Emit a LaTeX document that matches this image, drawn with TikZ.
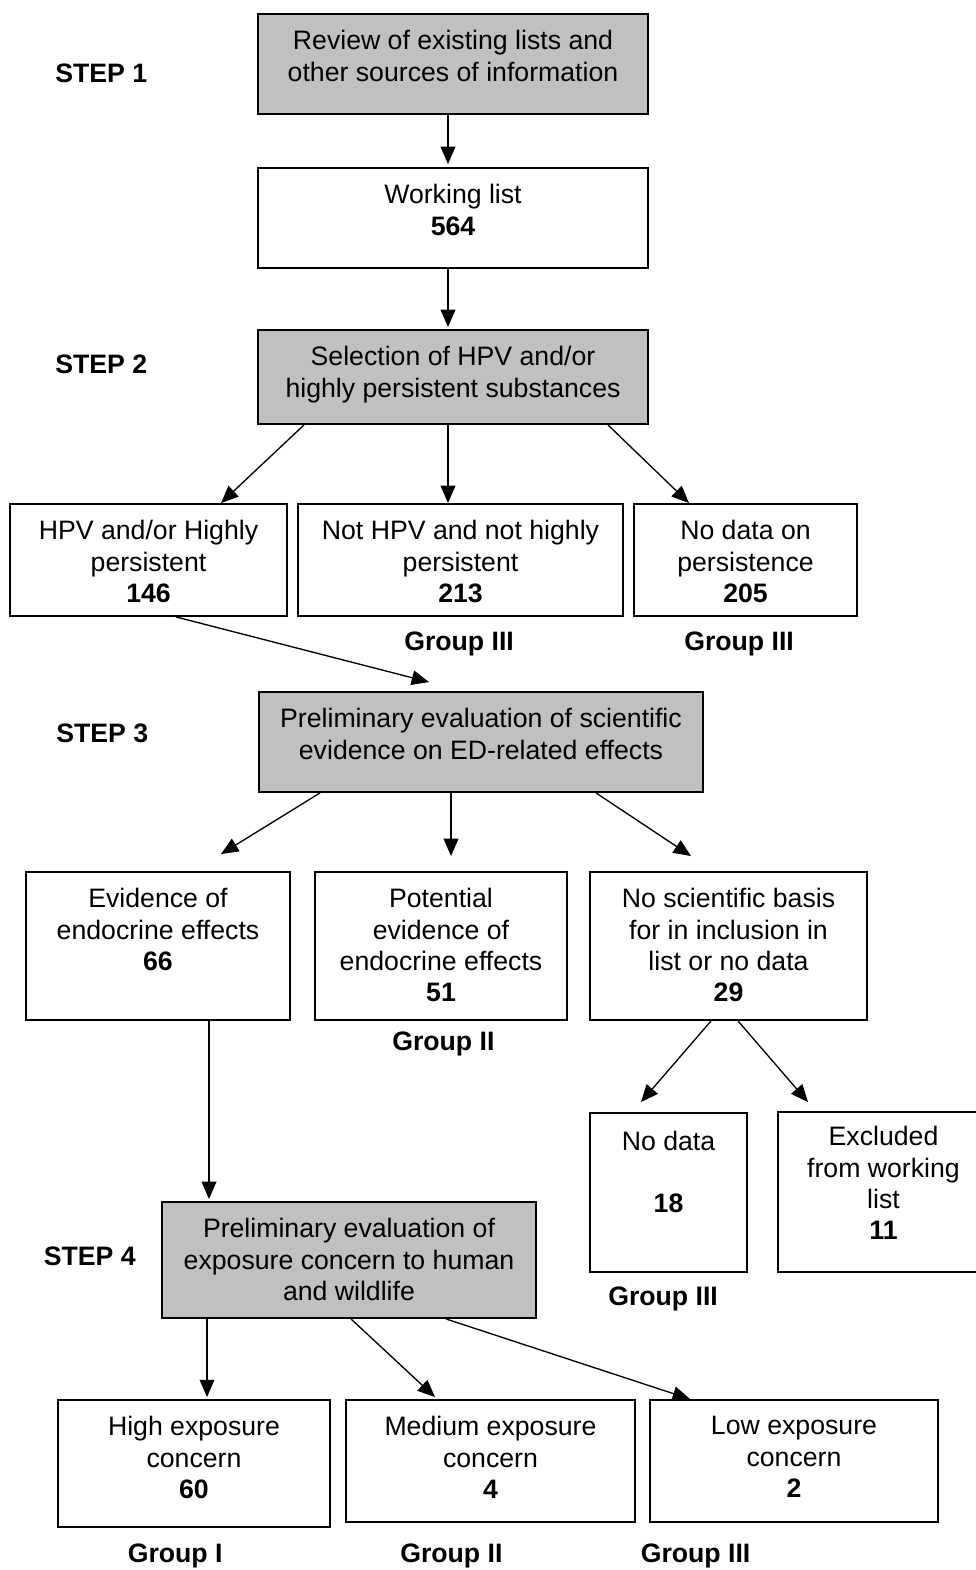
\documentclass[tikz,border=0pt]{standalone}
\usepackage{fontspec}
\setmainfont{Liberation Sans}
\usetikzlibrary{calc,positioning,arrows.meta}
\definecolor{stepgray}{RGB}{192,192,192}
\tikzset{
	flowbox/.style={draw, line width=1.4pt, rectangle, inner sep=0pt},
	grayflowbox/.style={flowbox, fill=stepgray},
	boxdim/.style 2 args={minimum width=#1pt, minimum height=#2pt},
	boxtext/.style={align=center, inner sep=0pt, font=\fontsize{20}{23.5}\selectfont, execute at begin node=\strut},
	steplabel/.style={anchor=base west, inner sep=0pt, font=\fontsize{20}{23.5}\selectfont\bfseries},
	flow/.style={line width=1pt, -{Triangle[length=13pt, width=11pt]}}
}
\newcommand{\cnt}[1]{\textbf{#1}}

\begin{document}
\begin{tikzpicture}[x=0.75pt, y=-0.75pt]
		%%%%% START %%%%%
		\useasboundingbox (0,0) rectangle (975,1570);
		
		% step labels
		\node[steplabel] (step1) at (55,83) {STEP 1};
		\node[steplabel] (step2) at (55,373) {STEP 2};
		\node[steplabel] (step3) at (56,742) {STEP 3};
		\node[steplabel] (step4) at (43.5,1265) {STEP 4};
		
		% step 1
		\node[grayflowbox, boxdim={292.5}{75}] (rev) at (453,64) {};
		\node[boxtext, below=12.8pt of rev.north] (revtxt) {Review of existing lists and\\other sources of information};
		\node[flowbox, boxdim={292.5}{75}] (work) at (453,218) {};
		\node[boxtext, below=12.8pt of work.north] (worktxt) {Working list\\\cnt{564}};
		
		% step 2
		\node[grayflowbox, boxdim={292.5}{70.5}] (sel) at (453,377) {};
		\node[boxtext, below=12.8pt of sel.north] (seltxt) {Selection of HPV and/or\\highly persistent substances};
		\node[flowbox, boxdim={207.75}{84}] (hpv) at (148.5,560) {};
		\node[boxtext, below=12.8pt of hpv.north] (hpvtxt) {HPV and/or Highly\\persistent\\\cnt{146}};
		\node[flowbox, boxdim={243.75}{84}] (notp) at (460.5,560) {};
		\node[boxtext, below=12.8pt of notp.north] (notptxt) {Not HPV and not highly\\persistent\\\cnt{213}};
		\node[flowbox, boxdim={167.25}{84}] (nodat) at (745.5,560) {};
		\node[boxtext, below=12.8pt of nodat.north] (nodattxt) {No data on\\persistence\\\cnt{205}};
		\node[steplabel] (grpnotp) at (404,650) {Group III};
		\node[steplabel] (grpnodat) at (684,650) {Group III};
		
		% step 3
		\node[grayflowbox, boxdim={333}{75}] (ev) at (481,742) {};
		\node[boxtext, below=12.8pt of ev.north] (evtxt) {Preliminary evaluation of scientific\\evidence on ED-related effects};
		\node[flowbox, boxdim={198}{111}] (evid) at (158,946) {};
		\node[boxtext, below=12.8pt of evid.north] (evidtxt) {Evidence of\\endocrine effects\\\cnt{66}};
		\node[flowbox, boxdim={189}{111}] (potev) at (441,946) {};
		\node[boxtext, below=12.8pt of potev.north] (potevtxt) {Potential\\evidence of\\endocrine effects\\\cnt{51}};
		\node[flowbox, boxdim={207.75}{111}] (nosci) at (728.5,946) {};
		\node[boxtext, below=12.8pt of nosci.north] (noscitxt) {No scientific basis\\for in inclusion in\\list or no data\\\cnt{29}};
		\node[steplabel] (grppotev) at (392,1050) {Group II};
		\node[flowbox, boxdim={117.75}{119.25}] (nod) at (668.5,1192.5) {};
		\node[boxtext, below=13.8pt of nod.north] (nodtxt) {No data\\[23.5pt]\cnt{18}};
		\node[flowbox, boxdim={158.25}{120}] (excl) at (883.5,1192) {};
		\node[boxtext, below=11.3pt of excl.north] (excltxt) {Excluded\\from working\\list\\\cnt{11}};
		\node[steplabel] (grpnod) at (608,1305) {Group III};
		
		% step 4
		\node[grayflowbox, boxdim={280.5}{87}] (expo) at (349,1260) {};
		\node[boxtext, below=12.8pt of expo.north] (expotxt) {Preliminary evaluation of\\exposure concern to human\\and wildlife};
		\node[flowbox, boxdim={204}{95.25}] (high) at (194,1463.5) {};
		\node[boxtext, below=12.8pt of high.north] (hightxt) {High exposure\\concern\\\cnt{60}};
		\node[flowbox, boxdim={216.75}{91.5}] (med) at (490.5,1461) {};
		\node[boxtext, below=12.8pt of med.north] (medtxt) {Medium exposure\\concern\\\cnt{4}};
		\node[flowbox, boxdim={216}{91.5}] (low) at (794,1461) {};
		\node[boxtext, below=12.8pt of low.north] (lowtxt) {Low exposure\\concern\\\cnt{2}};
		\node[steplabel] (grphigh) at (127.5,1562) {Group I};
		\node[steplabel] (grpmed) at (400,1562) {Group II};
		\node[steplabel] (grplow) at (640.5,1562) {Group III};
		
		% connectors
		\draw[flow] ($(rev.south)+(-5,0)$) -- ($(work.north)+(-5,-3)$);
		\draw[flow] ($(work.south)+(-5,0)$) -- ($(sel.north)+(-5,-2)$);
		
		\draw[flow] ($(sel.south)+(-149,0)$) -- ($(hpv.north)+(72.5,0)$);
		\draw[flow] ($(sel.south)+(-5,0)$) -- ($(notp.north)+(-12.5,0)$);
		\draw[flow] ($(sel.south)+(155,0)$) -- ($(nodat.north)+(-56.5,0)$);
		
		\draw[flow] ($(hpv.south)+(27.5,0)$) -- ($(ev.north)+(-52,-9)$);
		
		\draw[flow] ($(ev.south)+(-161,0)$) -- ($(evid.north)+(63,-17)$);
		\draw[flow] ($(ev.south)+(-30,0)$) -- ($(potev.north)+(10,-15)$);
		\draw[flow] ($(ev.south)+(115,0)$) -- ($(nosci.north)+(-37.5,-15)$);
		
		\draw[flow] ($(nosci.south)+(-17.5,0)$) -- ($(nod.north)+(-27.5,-10)$);
		\draw[flow] ($(nosci.south)+(9.5,0)$) -- ($(excl.north)+(-75.5,-9)$);
		
		\draw[flow] ($(evid.south)+(51,0)$) -- ($(expo.north)+(-140,-2)$);
		
		\draw[flow] ($(expo.south)+(-142,0)$) -- ($(high.north)+(13,-2)$);
		\draw[flow] ($(expo.south)+(2,0)$) -- ($(med.north)+(-55.5,-2)$);
		\draw[flow] ($(expo.south)+(97,0)$) -- ($(low.north)+(-104,0)$);
		
		%%%%% END %%%%%
\end{tikzpicture}
\end{document}
